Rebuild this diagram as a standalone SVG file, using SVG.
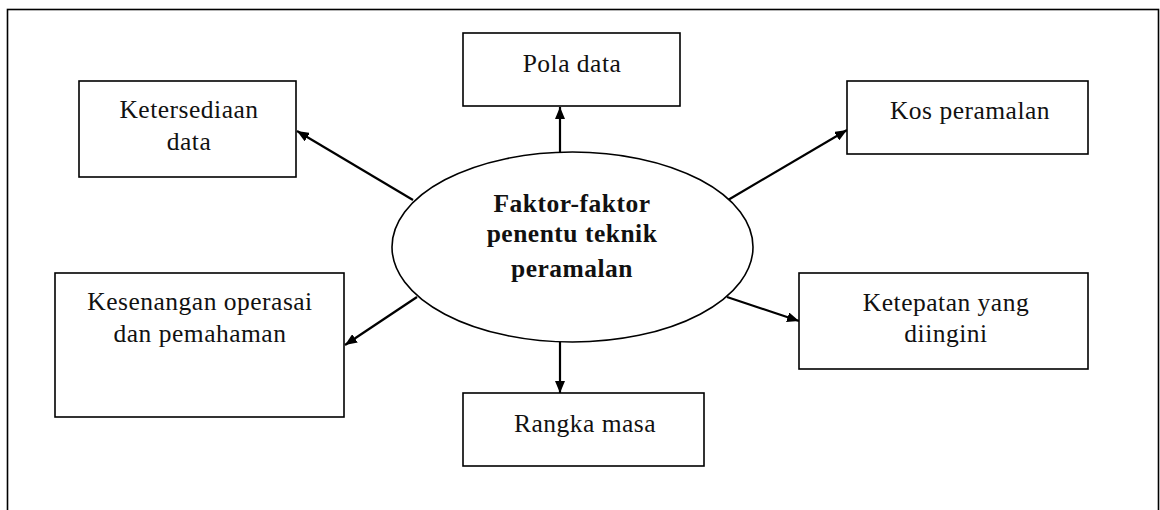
<svg xmlns="http://www.w3.org/2000/svg" width="1160" height="510" viewBox="0 0 1160 510">
<style>
.box{fill:#fff;stroke:#000;stroke-width:1.6}
.t{font-family:"Liberation Serif","Times New Roman",serif;font-size:25.5px;letter-spacing:0.5px;fill:#111;text-anchor:middle}
.b{font-weight:bold}
.c{stroke:#000;stroke-width:2.2;fill:none;marker-end:url(#ah)}
</style>
<defs>
<marker id="ah" viewBox="0 0 12 10" refX="12" refY="5" markerWidth="12" markerHeight="10" markerUnits="userSpaceOnUse" orient="auto">
<path d="M0,0 L12,5 L0,10 Z" fill="#000"/>
</marker>
</defs>
<rect x="7.5" y="9.5" width="1151" height="530" fill="#fff" stroke="#000" stroke-width="1.6"/>
<g id="connectors">
<line class="c" x1="560" y1="153" x2="560" y2="107"/>
<line class="c" x1="413" y1="200" x2="297" y2="131"/>
<line class="c" x1="728" y1="200" x2="847" y2="130"/>
<line class="c" x1="417" y1="297" x2="345" y2="345"/>
<line class="c" x1="727" y1="297" x2="799" y2="321"/>
<line class="c" x1="560" y1="342" x2="560" y2="393"/>
</g>
<g id="center">
<ellipse cx="572.5" cy="247" rx="180.5" ry="95" fill="#fff" stroke="#000" stroke-width="1.6"/>
<text class="t b" x="572" y="212">Faktor-faktor</text>
<text class="t b" x="572" y="242">penentu teknik</text>
<text class="t b" x="572" y="277">peramalan</text>
</g>
<g id="pola-data">
<rect class="box" x="463" y="33" width="217" height="73"/>
<text class="t" x="572" y="72">Pola data</text>
</g>
<g id="ketersediaan-data">
<rect class="box" x="79" y="81" width="217" height="96"/>
<text class="t" x="189" y="118">Ketersediaan</text>
<text class="t" x="189" y="150">data</text>
</g>
<g id="kos-peramalan">
<rect class="box" x="847" y="81" width="241" height="73"/>
<text class="t" x="970" y="119">Kos peramalan</text>
</g>
<g id="kesenangan">
<rect class="box" x="55" y="273" width="289" height="144"/>
<text class="t" x="200" y="310">Kesenangan operasai</text>
<text class="t" x="200" y="342">dan pemahaman</text>
</g>
<g id="ketepatan">
<rect class="box" x="799" y="273" width="289" height="96"/>
<text class="t" x="946" y="311">Ketepatan yang</text>
<text class="t" x="946" y="342">diingini</text>
</g>
<g id="rangka-masa">
<rect class="box" x="463" y="393" width="241" height="73"/>
<text class="t" x="585" y="432">Rangka masa</text>
</g>
</svg>
